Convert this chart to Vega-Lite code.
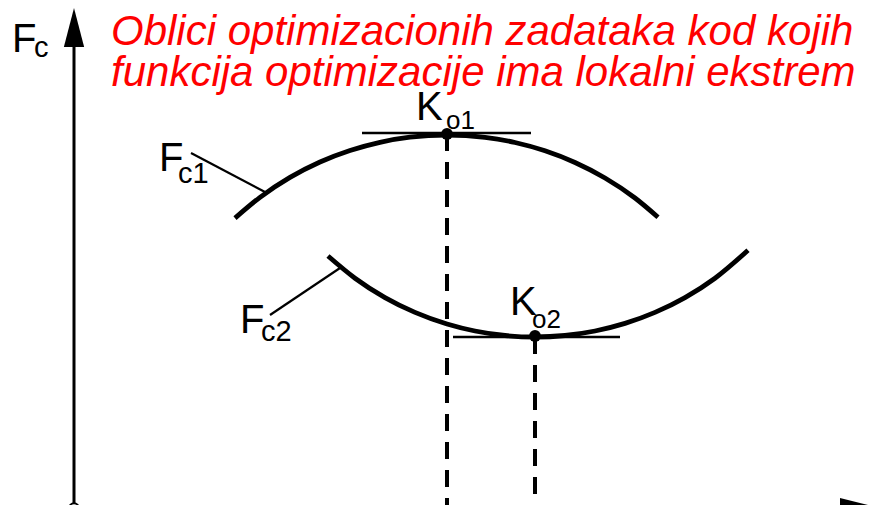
{
  "$schema": "https://vega.github.io/schema/vega-lite/v6.json",
  "width": 871,
  "height": 505,
  "autosize": "none",
  "padding": 0,
  "background": "white",
  "config": {"view": {"stroke": null}},
  "datasets": {
    "curves": [
      {"c": "Fc1", "x": 235, "y": 218.1},
      {"c": "Fc1", "x": 260, "y": 197.3},
      {"c": "Fc1", "x": 290, "y": 177.4},
      {"c": "Fc1", "x": 320, "y": 162.0},
      {"c": "Fc1", "x": 350, "y": 150.5},
      {"c": "Fc1", "x": 380, "y": 142.3},
      {"c": "Fc1", "x": 410, "y": 137.2},
      {"c": "Fc1", "x": 447, "y": 135.0},
      {"c": "Fc1", "x": 485, "y": 137.3},
      {"c": "Fc1", "x": 515, "y": 142.5},
      {"c": "Fc1", "x": 545, "y": 150.8},
      {"c": "Fc1", "x": 575, "y": 162.5},
      {"c": "Fc1", "x": 605, "y": 178.0},
      {"c": "Fc1", "x": 635, "y": 198.0},
      {"c": "Fc1", "x": 658, "y": 217.2},
      {"c": "Fc2", "x": 328, "y": 256.0},
      {"c": "Fc2", "x": 355, "y": 278.2},
      {"c": "Fc2", "x": 385, "y": 297.6},
      {"c": "Fc2", "x": 415, "y": 312.4},
      {"c": "Fc2", "x": 447, "y": 324.0},
      {"c": "Fc2", "x": 475, "y": 331.0},
      {"c": "Fc2", "x": 505, "y": 335.5},
      {"c": "Fc2", "x": 535, "y": 337.0},
      {"c": "Fc2", "x": 565, "y": 335.5},
      {"c": "Fc2", "x": 595, "y": 331.0},
      {"c": "Fc2", "x": 625, "y": 323.4},
      {"c": "Fc2", "x": 655, "y": 312.4},
      {"c": "Fc2", "x": 685, "y": 297.6},
      {"c": "Fc2", "x": 715, "y": 278.2},
      {"c": "Fc2", "x": 748, "y": 250.3}
    ],
    "leaders": [
      {"id": "Fc1", "x": 191, "y": 153},
      {"id": "Fc1", "x": 265, "y": 192},
      {"id": "Fc2", "x": 270, "y": 315},
      {"id": "Fc2", "x": 340, "y": 268}
    ],
    "tangents": [
      {"k": "Ko1", "x": 362, "x2": 531, "y": 133},
      {"k": "Ko2", "x": 453, "x2": 620, "y": 337}
    ],
    "axis": [
      {"x": 74, "y": 40, "y2": 503}
    ],
    "dashed": [
      {"k": "Ko1", "x": 447, "y": 134, "y2": 505},
      {"k": "Ko2", "x": 535, "y": 337, "y2": 505}
    ],
    "optima": [
      {"k": "Ko1", "x": 447, "y": 134},
      {"k": "Ko2", "x": 535, "y": 336}
    ],
    "title": [
      {"t": "Oblici optimizacionih zadataka kod kojih", "x": 111, "y": 45},
      {"t": "funkcija optimizacije ima lokalni ekstrem", "x": 111, "y": 86}
    ],
    "bigLabels": [
      {"t": "F", "x": 12, "y": 52},
      {"t": "F", "x": 159, "y": 171},
      {"t": "F", "x": 240, "y": 333},
      {"t": "K", "x": 416, "y": 120},
      {"t": "K", "x": 510, "y": 315}
    ],
    "subLabels": [
      {"t": "c", "x": 34, "y": 57},
      {"t": "c1", "x": 178, "y": 183},
      {"t": "c2", "x": 261, "y": 341}
    ],
    "koSub": [
      {"t": "o1", "x": 446, "y": 129},
      {"t": "o2", "x": 532, "y": 328}
    ]
  },
  "encoding": {
    "x": {"field": "x", "type": "quantitative", "axis": null, "scale": {"domain": [0, 871], "nice": false, "zero": false}},
    "y": {"field": "y", "type": "quantitative", "axis": null, "scale": {"domain": [0, 505], "nice": false, "zero": false, "reverse": true}}
  },
  "layer": [
    {
      "data": {"name": "curves"},
      "mark": {"type": "line", "interpolate": "monotone", "color": "black", "strokeWidth": 4.8, "strokeCap": "butt"},
      "encoding": {"detail": {"field": "c"}}
    },
    {
      "data": {"name": "leaders"},
      "mark": {"type": "line", "color": "black", "strokeWidth": 2.2},
      "encoding": {"detail": {"field": "id"}}
    },
    {
      "data": {"name": "tangents"},
      "mark": {"type": "rule", "color": "black", "strokeWidth": 2.6},
      "encoding": {"x2": {"field": "x2"}}
    },
    {
      "data": {"name": "axis"},
      "mark": {"type": "rule", "color": "black", "strokeWidth": 3},
      "encoding": {"y2": {"field": "y2"}}
    },
    {
      "data": {"name": "dashed"},
      "mark": {"type": "rule", "color": "black", "strokeWidth": 4, "strokeDash": [17, 11]},
      "encoding": {"y2": {"field": "y2"}}
    },
    {
      "data": {"name": "optima"},
      "mark": {"type": "point", "filled": true, "color": "black", "size": 140, "opacity": 1}
    },
    {
      "data": {"values": [{"x": 74, "y": 27.5}]},
      "mark": {"type": "point", "filled": true, "color": "black", "opacity": 1, "size": 1521, "shape": "M0,-1L0.52,1L-0.52,1Z"}
    },
    {
      "data": {"values": [{"x": 860, "y": 508}]},
      "mark": {"type": "point", "filled": true, "color": "black", "opacity": 1, "size": 1600, "shape": "M1,0L-1,0.5L-1,-0.5Z"}
    },
    {
      "data": {"values": [{"x": 74, "y": 508}]},
      "mark": {"type": "point", "filled": false, "color": "black", "strokeWidth": 2, "opacity": 1, "size": 90}
    },
    {
      "data": {"name": "title"},
      "mark": {"type": "text", "align": "left", "baseline": "alphabetic", "font": "Liberation Sans", "fontStyle": "italic", "fontSize": 42, "color": "#FF0000"},
      "encoding": {"text": {"field": "t"}}
    },
    {
      "data": {"name": "bigLabels"},
      "mark": {"type": "text", "align": "left", "baseline": "alphabetic", "font": "Liberation Sans", "fontSize": 40, "color": "black"},
      "encoding": {"text": {"field": "t"}}
    },
    {
      "data": {"name": "subLabels"},
      "mark": {"type": "text", "align": "left", "baseline": "alphabetic", "font": "Liberation Sans", "fontSize": 29, "color": "black"},
      "encoding": {"text": {"field": "t"}}
    },
    {
      "data": {"name": "koSub"},
      "mark": {"type": "text", "align": "left", "baseline": "alphabetic", "font": "Liberation Sans", "fontSize": 26, "color": "black"},
      "encoding": {"text": {"field": "t"}}
    }
  ]
}
